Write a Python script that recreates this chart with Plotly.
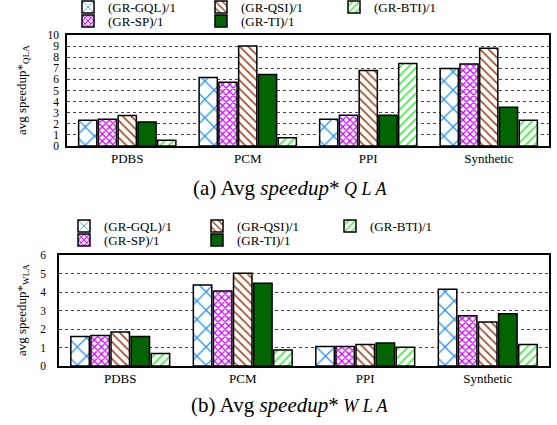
import plotly.graph_objects as go

categories = ["PDBS", "PCM", "PPI", "Synthetic"]
series_names = ["(GR-GQL)/1", "(GR-SP)/1", "(GR-QSI)/1", "(GR-TI)/1", "(GR-BTI)/1"]

qla_gql = [2.32, 6.17, 2.40, 6.99]
qla_sp = [2.40, 5.75, 2.77, 7.38]
qla_qsi = [2.74, 9.00, 6.80, 8.80]
qla_ti = [2.17, 6.45, 2.77, 3.49]
qla_bti = [0.51, 0.75, 7.44, 2.32]

wla_gql = [1.60, 4.38, 1.05, 4.15]
wla_sp = [1.65, 4.05, 1.05, 2.71]
wla_qsi = [1.84, 5.02, 1.16, 2.38]
wla_ti = [1.60, 4.47, 1.24, 2.82]
wla_bti = [0.67, 0.87, 1.02, 1.16]

W, H = 557, 425
FONT = "Liberation Serif, Times New Roman, serif"

# legend row of each series: row 1 -> GQL, QSI, BTI ; row 2 -> SP, TI
styles = [
    dict(shape="x", fgcolor="#1E90FF", size=13, solidity=0.18, row=0, rank=1),
    dict(shape="x", fgcolor="#CC00FF", size=5, solidity=0.45, row=1, rank=1),
    dict(shape="\\", fgcolor="#A0522D", size=6, solidity=0.3, row=0, rank=2),
    dict(shape="", fgcolor="#006400", size=6, solidity=1, row=1, rank=2),
    dict(shape="/", fgcolor="#44EE44", size=6, solidity=0.3, row=0, rank=3),
]

fig = go.Figure()

def add_series(values_list, xa, ya, legends):
    for name, vals, st in zip(series_names, values_list, styles):
        if st["shape"] == "":
            marker = dict(color=st["fgcolor"], line=dict(color="black", width=1.5))
        else:
            marker = dict(
                color="white",
                line=dict(color="black", width=1.5),
                pattern=dict(shape=st["shape"], fgcolor=st["fgcolor"], bgcolor="white",
                             size=st["size"], solidity=st["solidity"], fillmode="replace"),
            )
        fig.add_trace(go.Bar(x=categories, y=vals, name=name, marker=marker,
                             xaxis=xa, yaxis=ya, legend=legends[st["row"]],
                             legendrank=st["rank"]))

add_series([qla_gql, qla_sp, qla_qsi, qla_ti, qla_bti], "x", "y", ["legend", "legend2"])
add_series([wla_gql, wla_sp, wla_qsi, wla_ti, wla_bti], "x2", "y2", ["legend3", "legend4"])

def px_x(p):
    return p / W

def px_y(p):
    return 1 - p / H

axis_common = dict(showline=True, mirror=True, linecolor="black", linewidth=1.5,
                   automargin=False)

def legend_at(xl, yc):
    return dict(orientation="h", x=px_x(xl), xanchor="left", y=px_y(yc), yanchor="middle",
                entrywidth=88, entrywidthmode="pixels", traceorder="normal",
                font=dict(family=FONT, size=13, color="black"), itemwidth=30,
                bgcolor="rgba(0,0,0,0)", borderwidth=0)

fig.update_layout(
    width=W, height=H,
    margin=dict(l=0, r=0, t=0, b=0, autoexpand=False),
    paper_bgcolor="white", plot_bgcolor="white",
    barmode="group", bargap=0.18, bargroupgap=0.08,
    font=dict(family=FONT, size=13, color="black"),
    xaxis=dict(domain=[px_x(67), px_x(549)], anchor="y", ticks="", showgrid=False,
               tickfont=dict(family=FONT, size=13, color="black"), **axis_common),
    yaxis=dict(domain=[px_y(146), px_y(35)], anchor="x", range=[0, 10], dtick=1,
               showgrid=True, gridcolor="#444", griddash="dot", gridwidth=1, zeroline=False,
               ticks="", ticklabelstandoff=4,
               tickfont=dict(family=FONT, size=11.5, color="black"), **axis_common),
    xaxis2=dict(domain=[px_x(59), px_x(549)], anchor="y2", ticks="", showgrid=False,
                tickfont=dict(family=FONT, size=13, color="black"), **axis_common),
    yaxis2=dict(domain=[px_y(366), px_y(255)], anchor="x2", range=[0, 6], dtick=1,
                showgrid=True, gridcolor="#444", griddash="dot", gridwidth=1, zeroline=False,
                ticks="", ticklabelstandoff=9,
                tickfont=dict(family=FONT, size=11.5, color="black"), **axis_common),
    legend=legend_at(68, 7),
    legend2=legend_at(68, 21),
    legend3=legend_at(64, 226),
    legend4=legend_at(64, 240),
    showlegend=True,
)

cap_a = ("(a) Avg <i>speedup</i>*<span style='font-size:18px'> <i>Q L A</i></span>")
cap_b = ("(b) Avg <i>speedup</i>*<span style='font-size:18px'> <i>W L A</i></span>")

annotations = [
    dict(text="avg speedup*<sub>QLA</sub>", x=px_x(22), y=px_y(90), textangle=-90,
         font=dict(family=FONT, size=13)),
    dict(text="avg speedup*<sub>WLA</sub>", x=px_x(22), y=px_y(310), textangle=-90,
         font=dict(family=FONT, size=13)),
    dict(text=cap_a, x=px_x(290), y=px_y(188), font=dict(family=FONT, size=21)),
    dict(text=cap_b, x=px_x(290), y=px_y(405), font=dict(family=FONT, size=21)),
]
for a in annotations:
    a.update(xref="paper", yref="paper", showarrow=False, xanchor="center", yanchor="middle")
fig.update_layout(annotations=annotations)

fig.write_html("out.html", config={"displayModeBar": False},
               post_script="document.body.style.margin='0';document.body.style.padding='0';")
